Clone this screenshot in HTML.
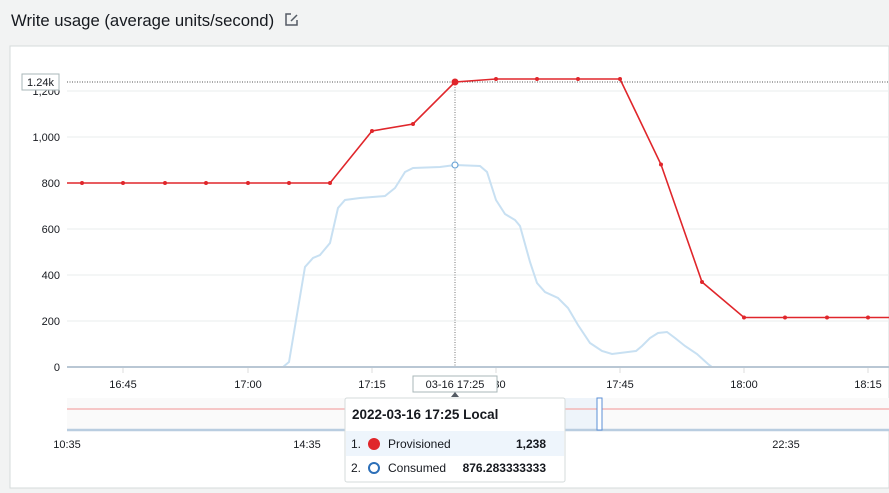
<!DOCTYPE html>
<html><head><meta charset="utf-8"><style>
html,body{margin:0;padding:0;width:889px;height:493px;overflow:hidden;background:#f2f3f3;font-family:"Liberation Sans",sans-serif;}
</style></head><body>
<svg width="889" height="493" viewBox="0 0 889 493" xmlns="http://www.w3.org/2000/svg" font-family="Liberation Sans, sans-serif">
<rect width="889" height="493" fill="#f2f3f3"/>
<text x="11" y="26" font-size="16.7" fill="#16191f">Write usage (average units/second)</text>
<g stroke="#545b64" stroke-width="1.5" fill="none"><path d="M291 14h-5v11h11v-5"/><path d="M291 21l6-6"/></g>
<rect x="10" y="46" width="879" height="442" fill="#fff" stroke="#d5dbdb"/>
<g stroke="#eaeded" stroke-width="1">
<line x1="67" y1="91" x2="889" y2="91"/><line x1="67" y1="137" x2="889" y2="137"/><line x1="67" y1="183" x2="889" y2="183"/><line x1="67" y1="229" x2="889" y2="229"/><line x1="67" y1="275" x2="889" y2="275"/><line x1="67" y1="321" x2="889" y2="321"/>
</g>
<line x1="67" y1="82" x2="889" y2="82" stroke="#555" stroke-dasharray="1,1.5"/>
<line x1="455" y1="82" x2="455" y2="367" stroke="#777" stroke-dasharray="1,1.5"/>
<g font-size="11" fill="#16191f" text-anchor="end">
<text x="60" y="95">1,200</text><text x="60" y="141">1,000</text><text x="60" y="187">800</text><text x="60" y="233">600</text><text x="60" y="279">400</text><text x="60" y="325">200</text><text x="60" y="371">0</text>
</g>
<rect x="22" y="74" width="37" height="16" fill="#fff" stroke="#aab7b8"/>
<text x="40.5" y="86" font-size="11" text-anchor="middle" fill="#16191f">1.24k</text>
<polyline fill="none" stroke="#c8e0f2" stroke-width="2" points="67,367 283,367 289,362 305,267 313,258 320,255 330,243 338,208 345,200 360,198 385,196 395,188 405,172 413,168 440,167 455,165 480,166 487,172 496,200 505,214 515,220 520,226 530,262 537,283 545,292 558,298 568,308 578,325 590,343 602,351 612,354 636,351 642,346 650,338 658,333 667,332 675,338 685,346 697,354 708,364 712,367 889,367"/>
<line x1="67" y1="367" x2="889" y2="367" stroke="#b9c7d4" stroke-width="2"/>
<circle cx="455" cy="165" r="3" fill="#fff" stroke="#6ea6d6" stroke-width="1.2"/>
<polyline fill="none" stroke="#e0262b" stroke-width="1.6" points="67,183 330,183 372,131 413,124 455,82 496,79 537,79 578,79 620,79 661,164.5 702,282 744,317.5 889,317.5"/>
<g fill="#e0262b">
<circle cx="82" cy="183" r="2"/><circle cx="123" cy="183" r="2"/><circle cx="165" cy="183" r="2"/><circle cx="206" cy="183" r="2"/><circle cx="248" cy="183" r="2"/><circle cx="289" cy="183" r="2"/><circle cx="330" cy="183" r="2"/><circle cx="372" cy="131" r="2"/><circle cx="413" cy="124" r="2"/><circle cx="455" cy="82" r="3.5"/><circle cx="496" cy="79" r="2"/><circle cx="537" cy="79" r="2"/><circle cx="578" cy="79" r="2"/><circle cx="620" cy="79" r="2"/><circle cx="661" cy="164.5" r="2"/><circle cx="702" cy="282" r="2"/><circle cx="744" cy="317.5" r="2"/><circle cx="785" cy="317.5" r="2"/><circle cx="827" cy="317.5" r="2"/><circle cx="868" cy="317.5" r="2"/>
</g>
<g stroke="#ddd"><line x1="123" y1="368" x2="123" y2="373"/><line x1="248" y1="368" x2="248" y2="373"/><line x1="372" y1="368" x2="372" y2="373"/><line x1="496" y1="368" x2="496" y2="373"/><line x1="620" y1="368" x2="620" y2="373"/><line x1="744" y1="368" x2="744" y2="373"/><line x1="868" y1="368" x2="868" y2="373"/></g>
<g font-size="11" fill="#16191f" text-anchor="middle">
<text x="123" y="388">16:45</text><text x="248" y="388">17:00</text><text x="372" y="388">17:15</text><text x="498" y="388">:30</text><text x="620" y="388">17:45</text><text x="744" y="388">18:00</text><text x="868" y="388">18:15</text>
</g>
<rect x="413" y="376" width="84" height="16" fill="#fff" stroke="#aab7b8"/>
<text x="455" y="388" font-size="11" text-anchor="middle" fill="#16191f">03-16 17:25</text>
<path d="M451 397l4-5 4 5z" fill="#545b64"/>
<rect x="67" y="398" width="822" height="32" fill="#fafafa"/>
<rect x="345" y="398" width="255" height="32" fill="#eef4fa"/>
<line x1="67" y1="409" x2="889" y2="409" stroke="#f4b6b6" stroke-width="1.5"/>
<line x1="67" y1="430" x2="889" y2="430" stroke="#b9cde0" stroke-width="2.5"/>
<rect x="597" y="398" width="5" height="32" fill="#fff" stroke="#5b8fd6"/>
<g font-size="11" fill="#16191f" text-anchor="middle"><text x="67" y="448">10:35</text><text x="307" y="448">14:35</text><text x="786" y="448">22:35</text></g>
<rect x="345" y="398" width="220" height="84" rx="2" fill="#fff" stroke="#d5dbdb"/>
<text x="352" y="419" font-size="13.5" font-weight="bold" fill="#16191f">2022-03-16 17:25 Local</text>
<rect x="346" y="431" width="218" height="25" fill="#eef5fc"/>
<text x="351" y="448" font-size="12" fill="#16191f">1.</text>
<circle cx="374" cy="444" r="6" fill="#e0262b"/>
<text x="388" y="448" font-size="12" fill="#16191f">Provisioned</text>
<text x="546" y="448" font-size="12" font-weight="bold" text-anchor="end" fill="#16191f">1,238</text>
<text x="351" y="472" font-size="12" fill="#16191f">2.</text>
<circle cx="374" cy="468" r="5" fill="#fff" stroke="#2c6fb8" stroke-width="2"/>
<text x="388" y="472" font-size="12" fill="#16191f">Consumed</text>
<text x="546" y="472" font-size="12" font-weight="bold" text-anchor="end" fill="#16191f">876.283333333</text>
</svg>
</body></html>
